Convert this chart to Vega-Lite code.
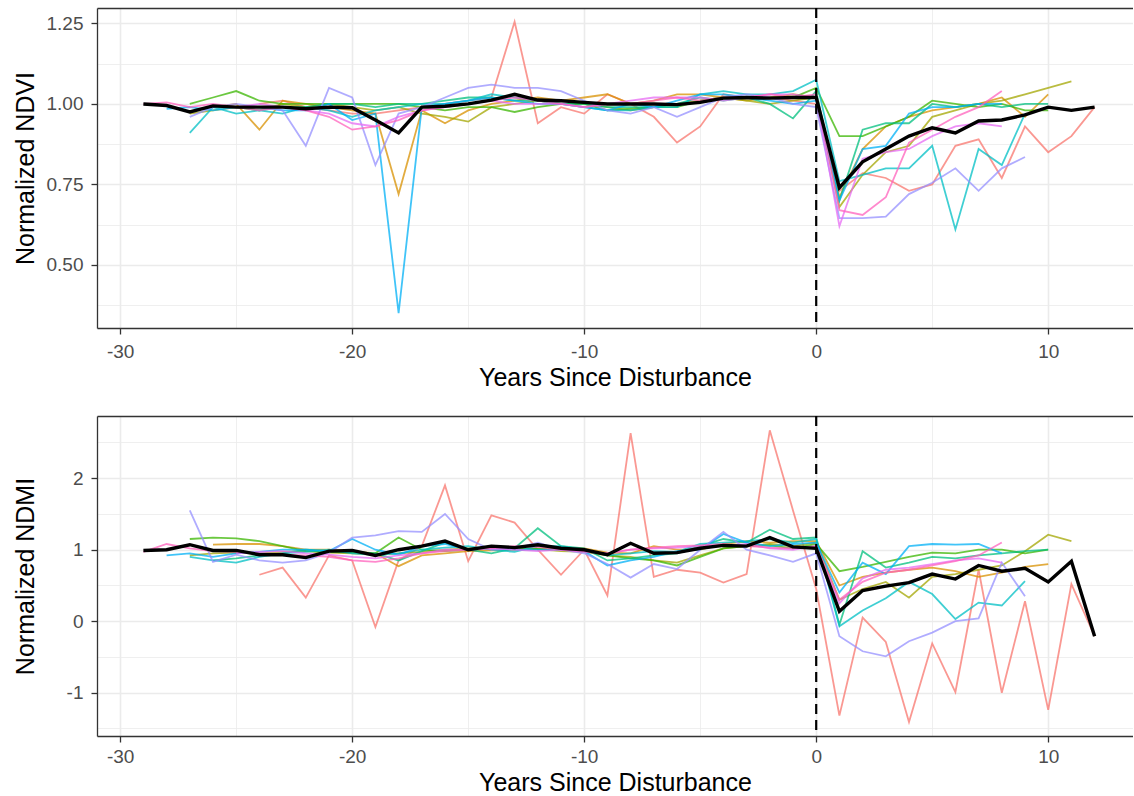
{
"$schema":"https://vega.github.io/schema/vega-lite/v6.json",
"background":"white",
"padding":{"left":13,"top":6,"right":0,"bottom":0},
"bounds":"flush",
"spacing":88,
"config":{
"view":{"stroke":null},
"font":"Liberation Sans",
"axis":{"labelFont":"Liberation Sans","labelFontSize":19,"labelColor":"#4D4D4D","titleFont":"Liberation Sans","titleFontSize":25,"titleFontWeight":"normal","titleColor":"#000000","domainColor":"#333333","domainWidth":1.3,"tickColor":"#333333","tickWidth":1.3,"tickSize":6,"labelPadding":8,"gridColor":"#EBEBEB","labelFlush":false,"labelOverlap":false}
},
"datasets":{"sites":[
{"site":"A","year":-24,"ndvi":1.00,"ndmi":0.65},{"site":"A","year":-23,"ndvi":1.01,"ndmi":0.75},{"site":"A","year":-22,"ndvi":0.99,"ndmi":0.33},{"site":"A","year":-21,"ndvi":0.98,"ndmi":0.92},{"site":"A","year":-20,"ndvi":0.97,"ndmi":0.85},{"site":"A","year":-19,"ndvi":0.97,"ndmi":-0.08},{"site":"A","year":-18,"ndvi":0.98,"ndmi":0.85},{"site":"A","year":-17,"ndvi":0.99,"ndmi":1.05},{"site":"A","year":-16,"ndvi":1.00,"ndmi":1.90},{"site":"A","year":-15,"ndvi":1.01,"ndmi":0.84},{"site":"A","year":-14,"ndvi":1.02,"ndmi":1.48},{"site":"A","year":-13,"ndvi":1.255,"ndmi":1.38},{"site":"A","year":-12,"ndvi":0.94,"ndmi":1.00},{"site":"A","year":-11,"ndvi":0.99,"ndmi":0.65},{"site":"A","year":-10,"ndvi":0.97,"ndmi":1.00},{"site":"A","year":-9,"ndvi":1.03,"ndmi":0.36},{"site":"A","year":-8,"ndvi":1.00,"ndmi":2.63},{"site":"A","year":-7,"ndvi":0.96,"ndmi":0.62},{"site":"A","year":-6,"ndvi":0.88,"ndmi":0.72},{"site":"A","year":-5,"ndvi":0.93,"ndmi":0.68},{"site":"A","year":-4,"ndvi":1.03,"ndmi":0.54},{"site":"A","year":-3,"ndvi":1.02,"ndmi":0.66},{"site":"A","year":-2,"ndvi":1.02,"ndmi":2.67},{"site":"A","year":-1,"ndvi":1.01,"ndmi":1.55},{"site":"A","year":0,"ndvi":1.00,"ndmi":0.45},{"site":"A","year":1,"ndvi":0.73,"ndmi":-1.32},{"site":"A","year":2,"ndvi":0.785,"ndmi":0.05},{"site":"A","year":3,"ndvi":0.77,"ndmi":-0.29},{"site":"A","year":4,"ndvi":0.73,"ndmi":-1.41},{"site":"A","year":5,"ndvi":0.75,"ndmi":-0.31},{"site":"A","year":6,"ndvi":0.87,"ndmi":-0.99},{"site":"A","year":7,"ndvi":0.89,"ndmi":0.72},{"site":"A","year":8,"ndvi":0.77,"ndmi":-1.00},{"site":"A","year":9,"ndvi":0.93,"ndmi":0.28},{"site":"A","year":10,"ndvi":0.85,"ndmi":-1.24},{"site":"A","year":11,"ndvi":0.90,"ndmi":0.52},{"site":"A","year":12,"ndvi":0.99,"ndmi":-0.21},
{"site":"B","year":-26,"ndvi":0.99,"ndmi":1.07},{"site":"B","year":-25,"ndvi":1.00,"ndmi":1.08},{"site":"B","year":-24,"ndvi":0.92,"ndmi":1.08},{"site":"B","year":-23,"ndvi":1.01,"ndmi":1.05},{"site":"B","year":-22,"ndvi":1.00,"ndmi":1.00},{"site":"B","year":-21,"ndvi":0.99,"ndmi":1.00},{"site":"B","year":-20,"ndvi":0.98,"ndmi":0.98},{"site":"B","year":-19,"ndvi":0.97,"ndmi":0.95},{"site":"B","year":-18,"ndvi":0.72,"ndmi":0.77},{"site":"B","year":-17,"ndvi":0.98,"ndmi":0.92},{"site":"B","year":-16,"ndvi":0.94,"ndmi":0.95},{"site":"B","year":-15,"ndvi":0.98,"ndmi":0.98},{"site":"B","year":-14,"ndvi":1.00,"ndmi":0.99},{"site":"B","year":-13,"ndvi":1.01,"ndmi":1.00},{"site":"B","year":-12,"ndvi":1.02,"ndmi":1.02},{"site":"B","year":-11,"ndvi":1.01,"ndmi":1.03},{"site":"B","year":-10,"ndvi":1.02,"ndmi":1.02},{"site":"B","year":-9,"ndvi":1.03,"ndmi":0.96},{"site":"B","year":-8,"ndvi":1.00,"ndmi":0.95},{"site":"B","year":-7,"ndvi":1.01,"ndmi":1.05},{"site":"B","year":-6,"ndvi":1.03,"ndmi":1.00},{"site":"B","year":-5,"ndvi":1.03,"ndmi":1.00},{"site":"B","year":-4,"ndvi":1.02,"ndmi":1.08},{"site":"B","year":-3,"ndvi":1.01,"ndmi":1.12},{"site":"B","year":-2,"ndvi":1.02,"ndmi":1.10},{"site":"B","year":-1,"ndvi":1.03,"ndmi":1.12},{"site":"B","year":0,"ndvi":1.02,"ndmi":1.12},{"site":"B","year":1,"ndvi":0.71,"ndmi":0.50},{"site":"B","year":2,"ndvi":0.86,"ndmi":0.62},{"site":"B","year":3,"ndvi":0.93,"ndmi":0.68},{"site":"B","year":4,"ndvi":0.96,"ndmi":0.72},{"site":"B","year":5,"ndvi":0.98,"ndmi":0.75},{"site":"B","year":6,"ndvi":0.99,"ndmi":0.70},{"site":"B","year":7,"ndvi":1.00,"ndmi":0.62},{"site":"B","year":8,"ndvi":1.02,"ndmi":0.68},{"site":"B","year":9,"ndvi":0.96,"ndmi":0.76},{"site":"B","year":10,"ndvi":1.03,"ndmi":0.80},
{"site":"C","year":-27,"ndvi":0.97,"ndmi":0.92},{"site":"C","year":-26,"ndvi":0.98,"ndmi":0.95},{"site":"C","year":-25,"ndvi":0.99,"ndmi":0.96},{"site":"C","year":-24,"ndvi":0.98,"ndmi":0.95},{"site":"C","year":-23,"ndvi":1.00,"ndmi":0.97},{"site":"C","year":-22,"ndvi":0.99,"ndmi":0.98},{"site":"C","year":-21,"ndvi":1.00,"ndmi":0.96},{"site":"C","year":-20,"ndvi":0.99,"ndmi":0.95},{"site":"C","year":-19,"ndvi":0.98,"ndmi":0.93},{"site":"C","year":-18,"ndvi":0.99,"ndmi":0.95},{"site":"C","year":-17,"ndvi":0.97,"ndmi":0.97},{"site":"C","year":-16,"ndvi":0.96,"ndmi":1.00},{"site":"C","year":-15,"ndvi":0.945,"ndmi":1.02},{"site":"C","year":-14,"ndvi":0.99,"ndmi":1.02},{"site":"C","year":-13,"ndvi":1.00,"ndmi":1.00},{"site":"C","year":-12,"ndvi":1.01,"ndmi":1.01},{"site":"C","year":-11,"ndvi":1.00,"ndmi":0.98},{"site":"C","year":-10,"ndvi":1.00,"ndmi":0.97},{"site":"C","year":-9,"ndvi":0.99,"ndmi":0.92},{"site":"C","year":-8,"ndvi":0.98,"ndmi":0.90},{"site":"C","year":-7,"ndvi":0.99,"ndmi":0.85},{"site":"C","year":-6,"ndvi":1.00,"ndmi":0.82},{"site":"C","year":-5,"ndvi":1.01,"ndmi":0.92},{"site":"C","year":-4,"ndvi":1.02,"ndmi":1.02},{"site":"C","year":-3,"ndvi":1.01,"ndmi":1.05},{"site":"C","year":-2,"ndvi":1.00,"ndmi":1.08},{"site":"C","year":-1,"ndvi":1.01,"ndmi":1.05},{"site":"C","year":0,"ndvi":1.02,"ndmi":1.10},{"site":"C","year":1,"ndvi":0.68,"ndmi":0.30},{"site":"C","year":2,"ndvi":0.78,"ndmi":0.45},{"site":"C","year":3,"ndvi":0.85,"ndmi":0.55},{"site":"C","year":4,"ndvi":0.87,"ndmi":0.33},{"site":"C","year":5,"ndvi":0.96,"ndmi":0.62},{"site":"C","year":6,"ndvi":0.98,"ndmi":0.66},{"site":"C","year":7,"ndvi":1.00,"ndmi":0.72},{"site":"C","year":8,"ndvi":1.01,"ndmi":0.78},{"site":"C","year":9,"ndvi":1.03,"ndmi":0.98},{"site":"C","year":10,"ndvi":1.05,"ndmi":1.21},{"site":"C","year":11,"ndvi":1.07,"ndmi":1.12},
{"site":"D","year":-27,"ndvi":1.00,"ndmi":1.15},{"site":"D","year":-26,"ndvi":1.02,"ndmi":1.17},{"site":"D","year":-25,"ndvi":1.04,"ndmi":1.16},{"site":"D","year":-24,"ndvi":1.01,"ndmi":1.12},{"site":"D","year":-23,"ndvi":1.00,"ndmi":1.05},{"site":"D","year":-22,"ndvi":1.00,"ndmi":0.98},{"site":"D","year":-21,"ndvi":1.00,"ndmi":0.97},{"site":"D","year":-20,"ndvi":1.00,"ndmi":0.96},{"site":"D","year":-19,"ndvi":1.00,"ndmi":0.95},{"site":"D","year":-18,"ndvi":1.00,"ndmi":1.17},{"site":"D","year":-17,"ndvi":0.99,"ndmi":1.00},{"site":"D","year":-16,"ndvi":0.98,"ndmi":0.98},{"site":"D","year":-15,"ndvi":0.99,"ndmi":1.00},{"site":"D","year":-14,"ndvi":0.99,"ndmi":1.02},{"site":"D","year":-13,"ndvi":0.975,"ndmi":1.03},{"site":"D","year":-12,"ndvi":0.99,"ndmi":1.01},{"site":"D","year":-11,"ndvi":1.00,"ndmi":1.00},{"site":"D","year":-10,"ndvi":1.00,"ndmi":1.00},{"site":"D","year":-9,"ndvi":0.98,"ndmi":0.92},{"site":"D","year":-8,"ndvi":0.985,"ndmi":0.88},{"site":"D","year":-7,"ndvi":0.99,"ndmi":0.85},{"site":"D","year":-6,"ndvi":0.99,"ndmi":0.78},{"site":"D","year":-5,"ndvi":1.01,"ndmi":0.90},{"site":"D","year":-4,"ndvi":1.02,"ndmi":1.02},{"site":"D","year":-3,"ndvi":1.02,"ndmi":1.05},{"site":"D","year":-2,"ndvi":1.02,"ndmi":1.06},{"site":"D","year":-1,"ndvi":1.02,"ndmi":1.02},{"site":"D","year":0,"ndvi":1.05,"ndmi":1.08},{"site":"D","year":1,"ndvi":0.90,"ndmi":0.70},{"site":"D","year":2,"ndvi":0.90,"ndmi":0.76},{"site":"D","year":3,"ndvi":0.93,"ndmi":0.83},{"site":"D","year":4,"ndvi":0.96,"ndmi":0.90},{"site":"D","year":5,"ndvi":1.01,"ndmi":0.96},{"site":"D","year":6,"ndvi":1.00,"ndmi":0.95},{"site":"D","year":7,"ndvi":0.99,"ndmi":1.00},{"site":"D","year":8,"ndvi":1.00,"ndmi":1.00},{"site":"D","year":9,"ndvi":0.98,"ndmi":0.95},{"site":"D","year":10,"ndvi":0.98,"ndmi":1.00},
{"site":"E","year":-26,"ndvi":0.99,"ndmi":0.85},{"site":"E","year":-25,"ndvi":0.99,"ndmi":0.88},{"site":"E","year":-24,"ndvi":0.98,"ndmi":0.92},{"site":"E","year":-23,"ndvi":0.99,"ndmi":0.95},{"site":"E","year":-22,"ndvi":0.99,"ndmi":1.00},{"site":"E","year":-21,"ndvi":1.00,"ndmi":0.98},{"site":"E","year":-20,"ndvi":1.00,"ndmi":0.97},{"site":"E","year":-19,"ndvi":0.99,"ndmi":0.95},{"site":"E","year":-18,"ndvi":1.00,"ndmi":0.85},{"site":"E","year":-17,"ndvi":1.00,"ndmi":0.98},{"site":"E","year":-16,"ndvi":1.01,"ndmi":1.10},{"site":"E","year":-15,"ndvi":1.02,"ndmi":1.00},{"site":"E","year":-14,"ndvi":1.02,"ndmi":0.95},{"site":"E","year":-13,"ndvi":1.01,"ndmi":1.02},{"site":"E","year":-12,"ndvi":1.01,"ndmi":1.30},{"site":"E","year":-11,"ndvi":1.00,"ndmi":1.05},{"site":"E","year":-10,"ndvi":1.00,"ndmi":1.02},{"site":"E","year":-9,"ndvi":0.99,"ndmi":0.85},{"site":"E","year":-8,"ndvi":0.99,"ndmi":0.88},{"site":"E","year":-7,"ndvi":0.99,"ndmi":0.92},{"site":"E","year":-6,"ndvi":1.00,"ndmi":0.95},{"site":"E","year":-5,"ndvi":1.02,"ndmi":1.05},{"site":"E","year":-4,"ndvi":1.01,"ndmi":1.15},{"site":"E","year":-3,"ndvi":1.02,"ndmi":1.10},{"site":"E","year":-2,"ndvi":1.00,"ndmi":1.28},{"site":"E","year":-1,"ndvi":0.955,"ndmi":1.15},{"site":"E","year":0,"ndvi":1.04,"ndmi":1.17},{"site":"E","year":1,"ndvi":0.70,"ndmi":-0.05},{"site":"E","year":2,"ndvi":0.92,"ndmi":0.98},{"site":"E","year":3,"ndvi":0.94,"ndmi":0.75},{"site":"E","year":4,"ndvi":0.94,"ndmi":0.82},{"site":"E","year":5,"ndvi":1.00,"ndmi":0.90},{"site":"E","year":6,"ndvi":0.99,"ndmi":0.88},{"site":"E","year":7,"ndvi":1.00,"ndmi":0.92},{"site":"E","year":8,"ndvi":0.99,"ndmi":0.95},{"site":"E","year":9,"ndvi":1.00,"ndmi":0.98},{"site":"E","year":10,"ndvi":1.00,"ndmi":1.00},
{"site":"F","year":-27,"ndvi":0.91,"ndmi":0.90},{"site":"F","year":-26,"ndvi":0.99,"ndmi":0.85},{"site":"F","year":-25,"ndvi":0.97,"ndmi":0.82},{"site":"F","year":-24,"ndvi":0.98,"ndmi":0.90},{"site":"F","year":-23,"ndvi":0.97,"ndmi":0.95},{"site":"F","year":-22,"ndvi":0.99,"ndmi":0.97},{"site":"F","year":-21,"ndvi":0.98,"ndmi":1.00},{"site":"F","year":-20,"ndvi":0.96,"ndmi":0.95},{"site":"F","year":-19,"ndvi":0.98,"ndmi":0.93},{"site":"F","year":-18,"ndvi":0.99,"ndmi":0.95},{"site":"F","year":-17,"ndvi":1.00,"ndmi":1.00},{"site":"F","year":-16,"ndvi":1.00,"ndmi":1.03},{"site":"F","year":-15,"ndvi":1.01,"ndmi":1.05},{"site":"F","year":-14,"ndvi":1.03,"ndmi":1.00},{"site":"F","year":-13,"ndvi":1.02,"ndmi":0.97},{"site":"F","year":-12,"ndvi":1.01,"ndmi":1.05},{"site":"F","year":-11,"ndvi":1.00,"ndmi":1.05},{"site":"F","year":-10,"ndvi":0.99,"ndmi":1.00},{"site":"F","year":-9,"ndvi":0.98,"ndmi":0.92},{"site":"F","year":-8,"ndvi":0.98,"ndmi":0.95},{"site":"F","year":-7,"ndvi":0.99,"ndmi":0.98},{"site":"F","year":-6,"ndvi":0.99,"ndmi":0.97},{"site":"F","year":-5,"ndvi":1.03,"ndmi":1.08},{"site":"F","year":-4,"ndvi":1.04,"ndmi":1.10},{"site":"F","year":-3,"ndvi":1.03,"ndmi":1.12},{"site":"F","year":-2,"ndvi":1.03,"ndmi":1.15},{"site":"F","year":-1,"ndvi":1.04,"ndmi":1.10},{"site":"F","year":0,"ndvi":1.075,"ndmi":1.15},{"site":"F","year":1,"ndvi":0.76,"ndmi":-0.07},{"site":"F","year":2,"ndvi":0.78,"ndmi":0.15},{"site":"F","year":3,"ndvi":0.80,"ndmi":0.32},{"site":"F","year":4,"ndvi":0.80,"ndmi":0.55},{"site":"F","year":5,"ndvi":0.87,"ndmi":0.38},{"site":"F","year":6,"ndvi":0.61,"ndmi":0.03},{"site":"F","year":7,"ndvi":0.86,"ndmi":0.26},{"site":"F","year":8,"ndvi":0.81,"ndmi":0.22},{"site":"F","year":9,"ndvi":0.97,"ndmi":0.56},
{"site":"G","year":-28,"ndvi":0.985,"ndmi":0.92},{"site":"G","year":-27,"ndvi":0.99,"ndmi":0.95},{"site":"G","year":-26,"ndvi":0.98,"ndmi":0.90},{"site":"G","year":-25,"ndvi":0.99,"ndmi":0.95},{"site":"G","year":-24,"ndvi":0.99,"ndmi":0.97},{"site":"G","year":-23,"ndvi":0.98,"ndmi":1.00},{"site":"G","year":-22,"ndvi":0.98,"ndmi":1.00},{"site":"G","year":-21,"ndvi":1.00,"ndmi":0.98},{"site":"G","year":-20,"ndvi":0.95,"ndmi":1.15},{"site":"G","year":-19,"ndvi":0.97,"ndmi":1.00},{"site":"G","year":-18,"ndvi":0.35,"ndmi":0.93},{"site":"G","year":-17,"ndvi":0.99,"ndmi":1.05},{"site":"G","year":-16,"ndvi":1.00,"ndmi":1.08},{"site":"G","year":-15,"ndvi":1.01,"ndmi":1.00},{"site":"G","year":-14,"ndvi":1.02,"ndmi":1.02},{"site":"G","year":-13,"ndvi":1.01,"ndmi":1.00},{"site":"G","year":-12,"ndvi":1.00,"ndmi":1.00},{"site":"G","year":-11,"ndvi":1.00,"ndmi":1.00},{"site":"G","year":-10,"ndvi":0.99,"ndmi":0.98},{"site":"G","year":-9,"ndvi":0.98,"ndmi":0.78},{"site":"G","year":-8,"ndvi":1.00,"ndmi":0.85},{"site":"G","year":-7,"ndvi":0.99,"ndmi":0.90},{"site":"G","year":-6,"ndvi":1.01,"ndmi":0.98},{"site":"G","year":-5,"ndvi":1.03,"ndmi":1.00},{"site":"G","year":-4,"ndvi":1.03,"ndmi":1.22},{"site":"G","year":-3,"ndvi":1.02,"ndmi":1.10},{"site":"G","year":-2,"ndvi":1.01,"ndmi":1.05},{"site":"G","year":-1,"ndvi":1.00,"ndmi":1.08},{"site":"G","year":0,"ndvi":1.01,"ndmi":1.10},{"site":"G","year":1,"ndvi":0.70,"ndmi":0.40},{"site":"G","year":2,"ndvi":0.86,"ndmi":0.82},{"site":"G","year":3,"ndvi":0.87,"ndmi":0.66},{"site":"G","year":4,"ndvi":0.97,"ndmi":1.05},{"site":"G","year":5,"ndvi":0.99,"ndmi":1.08},{"site":"G","year":6,"ndvi":0.99,"ndmi":1.07},{"site":"G","year":7,"ndvi":1.00,"ndmi":1.08},{"site":"G","year":8,"ndvi":1.00,"ndmi":0.95},
{"site":"H","year":-27,"ndvi":0.96,"ndmi":1.55},{"site":"H","year":-26,"ndvi":0.99,"ndmi":0.83},{"site":"H","year":-25,"ndvi":1.00,"ndmi":0.93},{"site":"H","year":-24,"ndvi":0.99,"ndmi":0.85},{"site":"H","year":-23,"ndvi":0.98,"ndmi":0.82},{"site":"H","year":-22,"ndvi":0.87,"ndmi":0.85},{"site":"H","year":-21,"ndvi":1.05,"ndmi":0.96},{"site":"H","year":-20,"ndvi":1.02,"ndmi":1.17},{"site":"H","year":-19,"ndvi":0.81,"ndmi":1.20},{"site":"H","year":-18,"ndvi":0.97,"ndmi":1.26},{"site":"H","year":-17,"ndvi":0.99,"ndmi":1.25},{"site":"H","year":-16,"ndvi":1.02,"ndmi":1.50},{"site":"H","year":-15,"ndvi":1.05,"ndmi":1.15},{"site":"H","year":-14,"ndvi":1.06,"ndmi":1.00},{"site":"H","year":-13,"ndvi":1.05,"ndmi":1.02},{"site":"H","year":-12,"ndvi":1.05,"ndmi":1.10},{"site":"H","year":-11,"ndvi":1.04,"ndmi":1.00},{"site":"H","year":-10,"ndvi":1.01,"ndmi":0.95},{"site":"H","year":-9,"ndvi":0.98,"ndmi":0.80},{"site":"H","year":-8,"ndvi":0.97,"ndmi":0.61},{"site":"H","year":-7,"ndvi":0.99,"ndmi":0.80},{"site":"H","year":-6,"ndvi":0.96,"ndmi":0.73},{"site":"H","year":-5,"ndvi":0.99,"ndmi":1.00},{"site":"H","year":-4,"ndvi":1.02,"ndmi":1.25},{"site":"H","year":-3,"ndvi":1.03,"ndmi":1.00},{"site":"H","year":-2,"ndvi":1.02,"ndmi":0.92},{"site":"H","year":-1,"ndvi":1.00,"ndmi":0.83},{"site":"H","year":0,"ndvi":0.99,"ndmi":0.95},{"site":"H","year":1,"ndvi":0.645,"ndmi":-0.21},{"site":"H","year":2,"ndvi":0.645,"ndmi":-0.42},{"site":"H","year":3,"ndvi":0.65,"ndmi":-0.49},{"site":"H","year":4,"ndvi":0.72,"ndmi":-0.28},{"site":"H","year":5,"ndvi":0.755,"ndmi":-0.16},{"site":"H","year":6,"ndvi":0.80,"ndmi":0.00},{"site":"H","year":7,"ndvi":0.73,"ndmi":0.04},{"site":"H","year":8,"ndvi":0.80,"ndmi":0.82},{"site":"H","year":9,"ndvi":0.835,"ndmi":0.35},
{"site":"I","year":-25,"ndvi":0.99,"ndmi":0.95},{"site":"I","year":-24,"ndvi":1.00,"ndmi":0.97},{"site":"I","year":-23,"ndvi":0.99,"ndmi":0.98},{"site":"I","year":-22,"ndvi":0.98,"ndmi":0.95},{"site":"I","year":-21,"ndvi":0.97,"ndmi":0.93},{"site":"I","year":-20,"ndvi":0.94,"ndmi":0.90},{"site":"I","year":-19,"ndvi":0.93,"ndmi":0.88},{"site":"I","year":-18,"ndvi":0.96,"ndmi":0.92},{"site":"I","year":-17,"ndvi":0.98,"ndmi":0.95},{"site":"I","year":-16,"ndvi":0.99,"ndmi":1.00},{"site":"I","year":-15,"ndvi":1.00,"ndmi":1.00},{"site":"I","year":-14,"ndvi":1.01,"ndmi":1.02},{"site":"I","year":-13,"ndvi":1.00,"ndmi":1.00},{"site":"I","year":-12,"ndvi":1.00,"ndmi":0.98},{"site":"I","year":-11,"ndvi":1.00,"ndmi":1.00},{"site":"I","year":-10,"ndvi":0.99,"ndmi":0.97},{"site":"I","year":-9,"ndvi":1.00,"ndmi":0.95},{"site":"I","year":-8,"ndvi":1.01,"ndmi":1.00},{"site":"I","year":-7,"ndvi":1.02,"ndmi":1.02},{"site":"I","year":-6,"ndvi":1.02,"ndmi":1.03},{"site":"I","year":-5,"ndvi":1.02,"ndmi":1.05},{"site":"I","year":-4,"ndvi":1.01,"ndmi":1.05},{"site":"I","year":-3,"ndvi":1.02,"ndmi":1.08},{"site":"I","year":-2,"ndvi":1.03,"ndmi":1.02},{"site":"I","year":-1,"ndvi":1.03,"ndmi":1.00},{"site":"I","year":0,"ndvi":1.02,"ndmi":1.05},{"site":"I","year":1,"ndvi":0.62,"ndmi":0.25},{"site":"I","year":2,"ndvi":0.83,"ndmi":0.60},{"site":"I","year":3,"ndvi":0.85,"ndmi":0.72},{"site":"I","year":4,"ndvi":0.86,"ndmi":0.75},{"site":"I","year":5,"ndvi":0.90,"ndmi":0.80},{"site":"I","year":6,"ndvi":0.93,"ndmi":0.85},{"site":"I","year":7,"ndvi":0.94,"ndmi":0.88},{"site":"I","year":8,"ndvi":0.93,"ndmi":0.82},
{"site":"J","year":-29,"ndvi":1.00,"ndmi":0.97},{"site":"J","year":-28,"ndvi":1.005,"ndmi":1.08},{"site":"J","year":-27,"ndvi":0.99,"ndmi":1.02},{"site":"J","year":-26,"ndvi":1.00,"ndmi":0.98},{"site":"J","year":-25,"ndvi":0.99,"ndmi":0.97},{"site":"J","year":-24,"ndvi":0.98,"ndmi":0.95},{"site":"J","year":-23,"ndvi":0.99,"ndmi":0.93},{"site":"J","year":-22,"ndvi":0.98,"ndmi":0.92},{"site":"J","year":-21,"ndvi":0.96,"ndmi":0.90},{"site":"J","year":-20,"ndvi":0.92,"ndmi":0.85},{"site":"J","year":-19,"ndvi":0.93,"ndmi":0.83},{"site":"J","year":-18,"ndvi":0.95,"ndmi":0.88},{"site":"J","year":-17,"ndvi":0.98,"ndmi":0.95},{"site":"J","year":-16,"ndvi":0.99,"ndmi":0.98},{"site":"J","year":-15,"ndvi":1.00,"ndmi":1.00},{"site":"J","year":-14,"ndvi":1.01,"ndmi":1.02},{"site":"J","year":-13,"ndvi":1.02,"ndmi":1.05},{"site":"J","year":-12,"ndvi":1.01,"ndmi":1.04},{"site":"J","year":-11,"ndvi":1.00,"ndmi":1.00},{"site":"J","year":-10,"ndvi":0.99,"ndmi":0.98},{"site":"J","year":-9,"ndvi":1.00,"ndmi":0.95},{"site":"J","year":-8,"ndvi":1.00,"ndmi":1.00},{"site":"J","year":-7,"ndvi":1.01,"ndmi":1.03},{"site":"J","year":-6,"ndvi":1.02,"ndmi":1.05},{"site":"J","year":-5,"ndvi":1.01,"ndmi":1.06},{"site":"J","year":-4,"ndvi":1.02,"ndmi":1.08},{"site":"J","year":-3,"ndvi":1.02,"ndmi":1.05},{"site":"J","year":-2,"ndvi":1.03,"ndmi":1.03},{"site":"J","year":-1,"ndvi":1.02,"ndmi":1.02},{"site":"J","year":0,"ndvi":1.03,"ndmi":1.05},{"site":"J","year":1,"ndvi":0.67,"ndmi":0.30},{"site":"J","year":2,"ndvi":0.655,"ndmi":0.55},{"site":"J","year":3,"ndvi":0.71,"ndmi":0.68},{"site":"J","year":4,"ndvi":0.88,"ndmi":0.72},{"site":"J","year":5,"ndvi":0.92,"ndmi":0.78},{"site":"J","year":6,"ndvi":0.96,"ndmi":0.84},{"site":"J","year":7,"ndvi":0.99,"ndmi":0.92},{"site":"J","year":8,"ndvi":1.04,"ndmi":1.10},
{"site":"Mean","year":-29,"ndvi":1.00,"ndmi":0.99},{"site":"Mean","year":-28,"ndvi":0.995,"ndmi":1.00},{"site":"Mean","year":-27,"ndvi":0.975,"ndmi":1.07},{"site":"Mean","year":-26,"ndvi":0.994,"ndmi":0.99},{"site":"Mean","year":-25,"ndvi":0.99,"ndmi":0.99},{"site":"Mean","year":-24,"ndvi":0.99,"ndmi":0.93},{"site":"Mean","year":-23,"ndvi":0.99,"ndmi":0.93},{"site":"Mean","year":-22,"ndvi":0.985,"ndmi":0.89},{"site":"Mean","year":-21,"ndvi":0.99,"ndmi":0.98},{"site":"Mean","year":-20,"ndvi":0.988,"ndmi":0.99},{"site":"Mean","year":-19,"ndvi":0.95,"ndmi":0.92},{"site":"Mean","year":-18,"ndvi":0.91,"ndmi":1.00},{"site":"Mean","year":-17,"ndvi":0.99,"ndmi":1.05},{"site":"Mean","year":-16,"ndvi":0.993,"ndmi":1.12},{"site":"Mean","year":-15,"ndvi":1.00,"ndmi":1.00},{"site":"Mean","year":-14,"ndvi":1.012,"ndmi":1.05},{"site":"Mean","year":-13,"ndvi":1.03,"ndmi":1.03},{"site":"Mean","year":-12,"ndvi":1.012,"ndmi":1.07},{"site":"Mean","year":-11,"ndvi":1.01,"ndmi":1.02},{"site":"Mean","year":-10,"ndvi":1.005,"ndmi":1.00},{"site":"Mean","year":-9,"ndvi":1.00,"ndmi":0.93},{"site":"Mean","year":-8,"ndvi":1.00,"ndmi":1.09},{"site":"Mean","year":-7,"ndvi":1.00,"ndmi":0.95},{"site":"Mean","year":-6,"ndvi":0.998,"ndmi":0.96},{"site":"Mean","year":-5,"ndvi":1.005,"ndmi":1.02},{"site":"Mean","year":-4,"ndvi":1.018,"ndmi":1.06},{"site":"Mean","year":-3,"ndvi":1.02,"ndmi":1.05},{"site":"Mean","year":-2,"ndvi":1.018,"ndmi":1.17},{"site":"Mean","year":-1,"ndvi":1.02,"ndmi":1.04},{"site":"Mean","year":0,"ndvi":1.02,"ndmi":1.02},{"site":"Mean","year":1,"ndvi":0.74,"ndmi":0.14},{"site":"Mean","year":2,"ndvi":0.82,"ndmi":0.43},{"site":"Mean","year":3,"ndvi":0.86,"ndmi":0.49},{"site":"Mean","year":4,"ndvi":0.90,"ndmi":0.54},{"site":"Mean","year":5,"ndvi":0.926,"ndmi":0.66},{"site":"Mean","year":6,"ndvi":0.91,"ndmi":0.59},{"site":"Mean","year":7,"ndvi":0.947,"ndmi":0.78},{"site":"Mean","year":8,"ndvi":0.95,"ndmi":0.70},{"site":"Mean","year":9,"ndvi":0.966,"ndmi":0.74},{"site":"Mean","year":10,"ndvi":0.99,"ndmi":0.55},{"site":"Mean","year":11,"ndvi":0.98,"ndmi":0.84},{"site":"Mean","year":12,"ndvi":0.99,"ndmi":-0.21}
]},
"vconcat":[
{
"width":1036,"height":320,
"data":{"name":"sites"},
"resolve":{"axis":{"x":"independent"}},
"layer":[
{"transform":[{"filter":"datum.site !== 'Mean'"}],
 "mark":{"type":"line","strokeWidth":1.8,"opacity":0.75},
 "encoding":{
  "x":{"field":"year","type":"quantitative","scale":{"domain":[-31.0,13.655],"nice":false,"zero":false},
   "axis":{"orient":"bottom","title":"Years Since Disturbance","values":[-30,-25,-20,-15,-10,-5,0,5,10],"tickCount":20,
    "labelExpr":"round(datum.value) % 10 === 0 ? '' + datum.value : ''",
    "tickOpacity":{"condition":{"test":"round(datum.value) % 10 === 0","value":1},"value":0},
    "gridWidth":{"condition":{"test":"round(datum.value) % 10 === 0","value":1.6},"value":0.8},
    "grid":true,"titleY":37,"titleBaseline":"top"}},
  "y":{"field":"ndvi","type":"quantitative","scale":{"domain":[0.304,1.298],"nice":false,"zero":false},
   "axis":{"title":"Normalized NDVI","values":[0.375,0.5,0.625,0.75,0.875,1,1.125,1.25],"tickCount":20,
    "labelExpr":"round(datum.value*100) % 25 === 0 ? format(datum.value, '.2f') : ''",
    "tickOpacity":{"condition":{"test":"round(datum.value*100) % 25 === 0","value":1},"value":0},
    "gridWidth":{"condition":{"test":"round(datum.value*100) % 25 === 0","value":1.6},"value":0.8},
    "grid":true,"titleX":-59,"titleY":160,"titleAngle":270,"titleBaseline":"bottom","titleAlign":"center"}},
  "color":{"field":"site","type":"nominal","legend":null,
   "scale":{"domain":["A","B","C","D","E","F","G","H","I","J"],
    "range":["#F8766D","#D89000","#A3A500","#39B600","#00BF7D","#00BFC4","#00B0F6","#9590FF","#E76BF3","#FF62BC"]}}
 }},
{"data":{"values":[{}]},
 "mark":{"type":"rule","color":"#000000","strokeWidth":2.2,"strokeDash":[10,6]},
 "encoding":{"x":{"datum":0,"type":"quantitative","axis":null}}},
{"transform":[{"filter":"datum.site === 'Mean'"}],
 "mark":{"type":"line","color":"#000000","strokeWidth":3.4},
 "encoding":{
  "x":{"field":"year","type":"quantitative","axis":{"orient":"top","labels":false,"ticks":false,"grid":false,"domain":true,"title":null}},
  "y":{"field":"ndvi","type":"quantitative"}
 }}
]
},
{
"width":1036,"height":320,
"data":{"name":"sites"},
"resolve":{"axis":{"x":"independent"}},
"layer":[
{"transform":[{"filter":"datum.site !== 'Mean'"}],
 "mark":{"type":"line","strokeWidth":1.8,"opacity":0.75},
 "encoding":{
  "x":{"field":"year","type":"quantitative","scale":{"domain":[-31.0,13.655],"nice":false,"zero":false},
   "axis":{"orient":"bottom","title":"Years Since Disturbance","values":[-30,-25,-20,-15,-10,-5,0,5,10],"tickCount":20,
    "labelExpr":"round(datum.value) % 10 === 0 ? '' + datum.value : ''",
    "tickOpacity":{"condition":{"test":"round(datum.value) % 10 === 0","value":1},"value":0},
    "gridWidth":{"condition":{"test":"round(datum.value) % 10 === 0","value":1.6},"value":0.8},
    "grid":true,"labelPadding":5,"titleY":34,"titleBaseline":"top"}},
  "y":{"field":"ndmi","type":"quantitative","scale":{"domain":[-1.605,2.87],"nice":false,"zero":false},
   "axis":{"title":"Normalized NDMI","values":[-1.5,-1,-0.5,0,0.5,1,1.5,2,2.5],"tickCount":20,
    "labelExpr":"round(datum.value*100) % 100 === 0 ? '' + datum.value : ''",
    "tickOpacity":{"condition":{"test":"round(datum.value*100) % 100 === 0","value":1},"value":0},
    "gridWidth":{"condition":{"test":"round(datum.value*100) % 100 === 0","value":1.6},"value":0.8},
    "grid":true,"titleX":-59,"titleY":160,"titleAngle":270,"titleBaseline":"bottom","titleAlign":"center"}},
  "color":{"field":"site","type":"nominal","legend":null,
   "scale":{"domain":["A","B","C","D","E","F","G","H","I","J"],
    "range":["#F8766D","#D89000","#A3A500","#39B600","#00BF7D","#00BFC4","#00B0F6","#9590FF","#E76BF3","#FF62BC"]}}
 }},
{"data":{"values":[{}]},
 "mark":{"type":"rule","color":"#000000","strokeWidth":2.2,"strokeDash":[10,6]},
 "encoding":{"x":{"datum":0,"type":"quantitative","axis":null}}},
{"transform":[{"filter":"datum.site === 'Mean'"}],
 "mark":{"type":"line","color":"#000000","strokeWidth":3.4},
 "encoding":{
  "x":{"field":"year","type":"quantitative","axis":{"orient":"top","labels":false,"ticks":false,"grid":false,"domain":true,"title":null}},
  "y":{"field":"ndmi","type":"quantitative"}
 }}
]
}
]
}
